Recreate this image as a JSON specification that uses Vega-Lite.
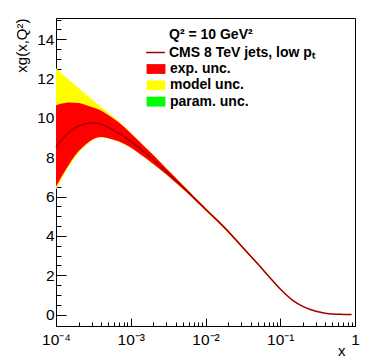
{
  "$schema": "https://vega.github.io/schema/vega-lite/v6.json",
  "width": 299,
  "height": 308,
  "autosize": {"type": "none"},
  "padding": {"left": 56, "top": 18, "right": 19, "bottom": 37},
  "background": "white",
  "config": {"view": {"stroke": "#000", "strokeWidth": 1}, "font": "Liberation Sans"},
  "title": {"text": "Q² = 10 GeV²", "anchor": "start", "frame": "group", "orient": "top", "offset": 0, "dx": 113, "dy": 35, "baseline": "alphabetic", "font": "Liberation Sans", "fontSize": 14, "fontWeight": "bold", "color": "#000"},
  "data": {"values": [
    {"x": 0.0001, "c": 8.5, "elo": 6.5, "ehi": 10.65, "mlo": 6.35, "mhi": 12.52},
    {"x": 0.00012, "c": 8.9, "elo": 7.05, "ehi": 10.73, "mlo": 6.92, "mhi": 12.25},
    {"x": 0.00015, "c": 9.27, "elo": 7.65, "ehi": 10.79, "mlo": 7.55, "mhi": 11.93},
    {"x": 0.0002, "c": 9.58, "elo": 8.3, "ehi": 10.76, "mlo": 8.22, "mhi": 11.52},
    {"x": 0.00025, "c": 9.7, "elo": 8.65, "ehi": 10.66, "mlo": 8.6, "mhi": 11.2},
    {"x": 0.0003, "c": 9.74, "elo": 8.88, "ehi": 10.56, "mlo": 8.84, "mhi": 10.95},
    {"x": 0.0004, "c": 9.67, "elo": 9.03, "ehi": 10.38, "mlo": 9.0, "mhi": 10.55},
    {"x": 0.0005, "c": 9.52, "elo": 8.97, "ehi": 10.15, "mlo": 8.95, "mhi": 10.26},
    {"x": 0.0007, "c": 9.2, "elo": 8.8, "ehi": 9.76, "mlo": 8.78, "mhi": 9.82},
    {"x": 0.001, "c": 8.82, "elo": 8.5, "ehi": 9.22, "mlo": 8.48, "mhi": 9.25},
    {"x": 0.0015, "c": 8.28, "elo": 8.02, "ehi": 8.57, "mlo": 8.0, "mhi": 8.59},
    {"x": 0.002, "c": 7.88, "elo": 7.66, "ehi": 8.12, "mlo": 7.64, "mhi": 8.14},
    {"x": 0.003, "c": 7.27, "elo": 7.12, "ehi": 7.43, "mlo": 7.11, "mhi": 7.44},
    {"x": 0.005, "c": 6.48, "elo": 6.38, "ehi": 6.58, "mlo": 6.37, "mhi": 6.59},
    {"x": 0.007, "c": 5.94, "elo": 5.87, "ehi": 6.01, "mlo": 5.86, "mhi": 6.02},
    {"x": 0.01, "c": 5.36, "elo": 5.3, "ehi": 5.42, "mlo": 5.29, "mhi": 5.43},
    {"x": 0.015, "c": 4.72, "elo": 4.67, "ehi": 4.77, "mlo": 4.66, "mhi": 4.78},
    {"x": 0.02, "c": 4.24, "elo": 4.19, "ehi": 4.29, "mlo": 4.18, "mhi": 4.3},
    {"x": 0.03, "c": 3.5, "elo": 3.46, "ehi": 3.54, "mlo": 3.45, "mhi": 3.55},
    {"x": 0.05, "c": 2.58, "elo": 2.55, "ehi": 2.61, "mlo": 2.54, "mhi": 2.62},
    {"x": 0.07, "c": 1.95, "elo": 1.93, "ehi": 1.97, "mlo": 1.92, "mhi": 1.98},
    {"x": 0.1, "c": 1.3, "elo": 1.29, "ehi": 1.31, "mlo": 1.28, "mhi": 1.32},
    {"x": 0.15, "c": 0.7, "elo": 0.69, "ehi": 0.71, "mlo": 0.69, "mhi": 0.71},
    {"x": 0.2, "c": 0.42, "elo": 0.41, "ehi": 0.43, "mlo": 0.41, "mhi": 0.43},
    {"x": 0.3, "c": 0.17, "elo": 0.165, "ehi": 0.175, "mlo": 0.16, "mhi": 0.18},
    {"x": 0.4, "c": 0.07, "elo": 0.066, "ehi": 0.074, "mlo": 0.065, "mhi": 0.075},
    {"x": 0.5, "c": 0.03, "elo": 0.028, "ehi": 0.032, "mlo": 0.027, "mhi": 0.033},
    {"x": 0.7, "c": 0.01, "elo": 0.009, "ehi": 0.011, "mlo": 0.009, "mhi": 0.011},
    {"x": 0.9, "c": 0.0, "elo": 0.0, "ehi": 0.0, "mlo": 0.0, "mhi": 0.0}
  ]},
  "layer": [
    {
      "mark": {"type": "area", "opacity": 1, "interpolate": "monotone"},
      "encoding": {
        "x": {"field": "x", "type": "quantitative",
          "scale": {"type": "log", "domain": [0.0001, 1], "nice": false},
          "axis": {"orient": "bottom", "values": [0.0001, 0.001, 0.01, 0.1, 1],
            "labelExpr": "datum.value < 0.0005 ? '10⁻⁴' : datum.value < 0.005 ? '10⁻³' : datum.value < 0.05 ? '10⁻²' : datum.value < 0.5 ? '10⁻¹' : '1'",
            "tickSize": -8, "labelPadding": 14, "labelFlush": false, "labelOverlap": false,
            "labelFont": "Liberation Sans", "labelFontSize": 15.5, "labelColor": "#000",
            "tickColor": "#000", "domainColor": "#000", "grid": false,
            "title": "x", "titleFont": "Liberation Sans", "titleFontSize": 15, "titleFontWeight": "normal", "titleColor": "#000",
            "titleAnchor": "end", "titleAlign": "right", "titleBaseline": "alphabetic", "titleX": 289, "titleY": 29}},
        "y": {"field": "mhi", "type": "quantitative",
          "scale": {"domain": [-0.58, 15.08], "nice": false, "zero": false},
          "axis": {"orient": "left", "values": [0, 2, 4, 6, 8, 10, 12, 14],
            "tickSize": -10, "labelPadding": 12, "labelFlush": false, "labelOverlap": false,
            "labelFont": "Liberation Sans", "labelFontSize": 15.5, "labelColor": "#000",
            "tickColor": "#000", "domainColor": "#000", "grid": false,
            "title": "xg(x,Q²)", "titleFont": "Liberation Sans", "titleFontSize": 15, "titleFontWeight": "normal", "titleColor": "#000",
            "titleAngle": -90, "titleAnchor": "end", "titleAlign": "right", "titleBaseline": "middle", "titleX": -35, "titleY": 0}},
        "y2": {"field": "mlo"},
        "fill": {"datum": "model unc.", "type": "nominal",
          "scale": {"domain": ["exp. unc.", "model unc.", "param. unc."], "range": ["#ff0000", "#ffff00", "#00ff00"]},
          "legend": {"orient": "none", "legendX": 93, "legendY": 44, "padding": 0, "title": null,
            "symbolType": "M-1.5,-0.78H1.5V0.78H-1.5Z", "symbolSize": 158, "symbolStrokeWidth": 0, "symbolOpacity": 1,
            "labelOffset": 7, "rowPadding": 2.3, "labelLimit": 300,
            "labelFont": "Liberation Sans", "labelFontSize": 14, "labelFontWeight": "bold", "labelColor": "#000"}}
      }
    },
    {
      "mark": {"type": "area", "opacity": 1, "interpolate": "monotone"},
      "encoding": {
        "x": {"field": "x", "type": "quantitative", "axis": null},
        "y": {"field": "ehi", "type": "quantitative", "axis": null},
        "y2": {"field": "elo"},
        "fill": {"datum": "exp. unc.", "type": "nominal"}
      }
    },
    {
      "mark": {"type": "line", "strokeWidth": 1.5, "interpolate": "monotone"},
      "encoding": {
        "x": {"field": "x", "type": "quantitative",
          "axis": {"orient": "bottom", "values": [0.0002, 0.0003, 0.0004, 0.0005, 0.0006, 0.0007, 0.0008, 0.0009, 0.002, 0.003, 0.004, 0.005, 0.006, 0.007, 0.008, 0.009, 0.02, 0.03, 0.04, 0.05, 0.06, 0.07, 0.08, 0.09, 0.2, 0.3, 0.4, 0.5, 0.6, 0.7, 0.8, 0.9],
            "tickSize": -4, "labels": false, "domain": false, "grid": false, "title": null, "tickColor": "#000"}},
        "y": {"field": "c", "type": "quantitative",
          "axis": {"orient": "left", "values": [0.5, 1, 1.5, 2.5, 3, 3.5, 4.5, 5, 5.5, 6.5, 7, 7.5, 8.5, 9, 9.5, 10.5, 11, 11.5, 12.5, 13, 13.5, 14.5, 15],
            "tickSize": -5, "labels": false, "domain": false, "grid": false, "title": null, "tickColor": "#000"}},
        "stroke": {"datum": "CMS 8 TeV jets, low pₜ", "type": "nominal",
          "scale": {"range": ["#a00000"]},
          "legend": {"orient": "none", "legendX": 92, "legendY": 27, "padding": 0, "title": null,
            "symbolType": "M-1.5,0H1.5", "symbolSize": 158, "symbolStrokeWidth": 1.5,
            "labelOffset": 6, "labelLimit": 300,
            "labelFont": "Liberation Sans", "labelFontSize": 14, "labelFontWeight": "bold", "labelColor": "#000"}}
      }
    }
  ],
  "resolve": {"axis": {"x": "independent", "y": "independent"}}
}
